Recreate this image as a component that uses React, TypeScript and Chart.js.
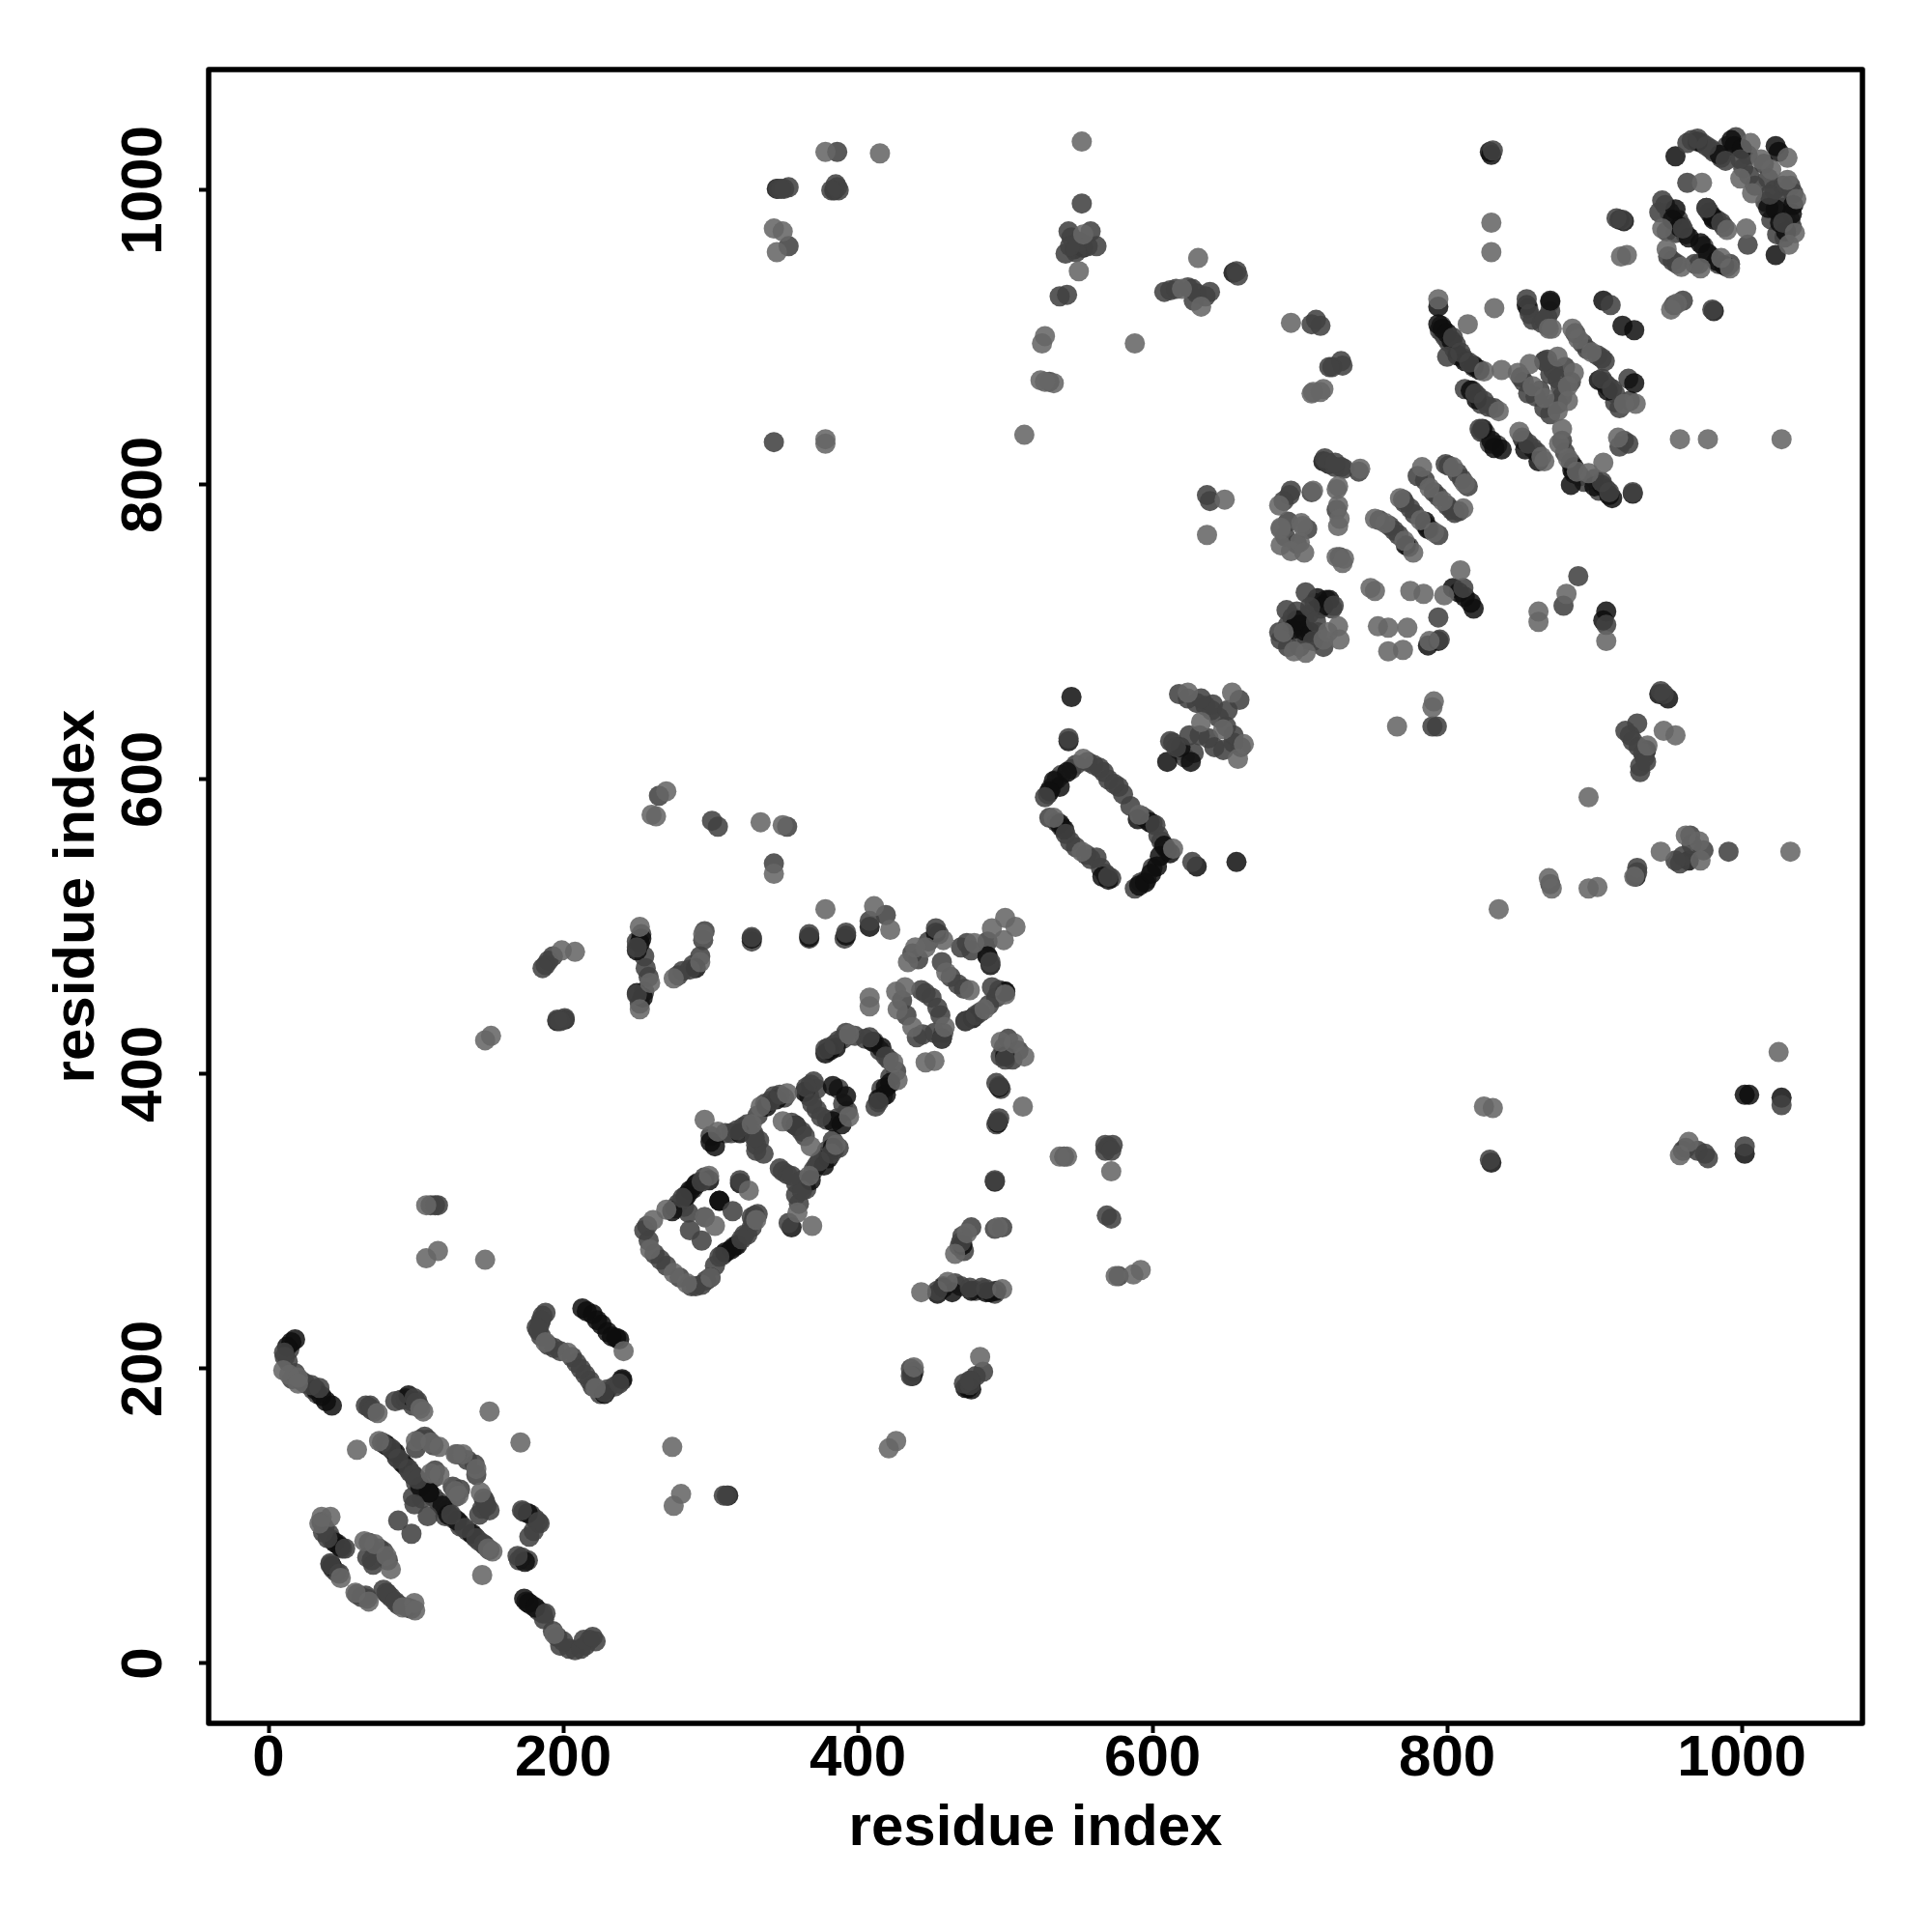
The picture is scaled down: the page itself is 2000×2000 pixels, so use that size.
import React, { useEffect, useRef } from "react";
import { Chart, registerables } from "chart.js";

Chart.register(...registerables);

type P = [number, number];

const axisTicks = [0, 200, 400, 600, 800, 1000];
const axisTitle = "residue index";

const lightPoints: P[] = [
  [10,199],[14,196],[20,194],[20,190],[74,170],[105,171],[103,173],[60,145],[75,151],[100,151],[110,150],[116,147],[110,129],[116,128],[127,117],[129,114],[132,142],[127,142],[141,132],[144,116],[152,76],[149,78],[145,60],[150,171],[171,150],
  [36,99.5],[42,99.5],[34.5,95],[49,58],[65,83],[72,81],[80,73],[83,64],[59,48],[68,42],[91,38],[99,41],[99.5,36],[194,20],[188,218],[203,211],[222,187],[241,212],
  [107,311],[107,275],[115,280],[147,274],[280,115],[275,107],[274,147],[147,423],[151,426],[208,483],[199,484],
  [261,301],[259,281],[275,265],[284,258],[300,262],[299,331],[296,303],[303,297],[331,301],[270,308],[326,321],
  [369,297],[359,306],[296,369],[305,361],[328,366],[334,378],[352,387],[349,368],[368,351],[367,331],[385,352],[394,371],[394,427],[424,408],[427,396],
  [378,512],[411,514],[422,498],[446,486],[439,486],[434,476],[458,491],[479,489],[500,506],[491,499],[507,500],[499,491],[500,454],[486,444],[460,469],[476,457],[459,432],[437,432],[427,444],[426,456],[432,459],[408,452],[408,446],[446,408],[452,409],[513,412],[506,421],[497,422],[512,378],[252,500],[259,462],[252,444],[295,495],[293,476],[275,465],
  [498,254],[461,259],[443,252],[466,278],[474,292],[495,296],[483,208],[438,201],[426,151],[421,146],[537,344],[542,344],[572,334],[592,267],[587,264],[575,263],
  [260,576],[263,575],[270,592],[334,571],[349,569],[343,536],
  [343,974],[349,972],[345,958],[378,1026],[415,1025],[378,831],[378,828],[552,1033],[553,970],[550,945],[527,901],[525,896],[524,871],[533,869],[527,870],[513,834],[588,896],[631,954],[620,933],[633,921],
  [708,862],[714,863],[694,755],[687,770],[702,772],[686,786],[725,797],[726,772],[725,751],[729,747],[637,766],[649,790],
  [751,777],[758,774],[777,754],[771,762],[768,791],[782,776],[791,768],[783,812],[788,798],[797,789],[811,784],[804,812],[812,801],[741,811],[726,799],[726,786],[727,777],[730,750],[709,796],[687,771],[701,774],[687,759],[700,761],[703,754],[751,728],[748,730],[775,728],[784,726],[798,725],[809,742],[753,704],[760,703],[773,703],[770,688],[760,687],[788,694],
  [791,653],[766,636],[790,649],[726,704],[704,686],[716,695],
  [794,926],[832,920],[869,906],[952,919],[956,923],[837,878],[825,877],[814,909],[871,906],[889,899],[885,906],[898,890],[856,882],[848,876],[858,867],[875,887],[886,876],[882,867],[882,857],[875,850],[866,859],[835,850],[928,855],[920,855],[878,838],[876,828],[882,818],[866,816],[864,819],[849,836],[888,809],[906,815],[896,808],[916,832],
  [958,831],[977,831],[1027,831],[830,978],[830,958],[922,956],[918,955],[694,910],[716,865],[709,863],
  [1006,1032],[1031,1022],[1031,1007],[1037,994],[1036,971],[1020,1014],[1013,1021],[999,1008],[1007,998],[990,973],[1003,974],[973,1005],[992,947],[986,954],[972,947],[959,948],[949,960],[946,974],[1032,963],
  [835,512],[825,378],[831,377],[869,533],[871,526],[896,526],[902,527],[927,534],[945,551],[962,562],[971,558],[972,545],[1033,551],[896,588],[936,623],[947,633],[955,630],[908,694],[881,726],[862,714],[862,707],[1025,415],[958,345],[964,354],
  [533,574],[552,551],[553,614],[591,576],[614,553],[658,614],[633,639],[648,634],[662,624],[624,659],[654,659],
  [689,700],[696,687],[719,700],[727,695]
];

const midPoints: P[] = [
  [11,208],[10.5,211],[29,189],[34.5,187],[68,174],[70,172],[86,178],[99,180],[100,177],[77,150],[83,146],[88,139],[95,132],[98,128],[101,125],[106,154],[133,92],[141,85],[146,81],[143,101],[124,101],[148,107],[150,104],[99,108],[108,100],[88,97],[97,88],
  [37,89],[40,85],[52,78],[42,67],[48,61],[67,72],[71,67],[67,44],[78,50],[81,47],[86,42],[172,104],[183,96],[177,86],[169,73],[188,34],[200,15],[212,10],[214,16],[220,18],[188,238],[185,233],[182,228],[194,214],[212,200],[228,184],[238,190],
  [115,311],[110,311],[113,311],[311,114],[309,114],[196,437],[201,438],[198,436],[188,474],[193,480],[190,477],[186,472],
  [255,294],[266,274],[294,257],[306,276],[321,288],[325,291],[294,327],[281,316],[296,303],[286,294],[294,287],[320,328],[330,304],[315,307],
  [353,299],[362,321],[374,341],[382,346],[347,336],[355,331],[318,362],[331,348],[336,346],[330,357],[341,382],[347,386],[370,395],[365,391],[369,380],[375,371],[358,365],[364,358],
  [378,417],[384,420],[408,425],[419,412],[414,381],[453,499],[474,489],[490,476],[468,461],[491,459],[473,436],[480,440],[446,455],[454,445],[457,424],[444,427],[457,476],[500,410],[495,368],[496,392],[408,504],[419,508],[250,486],[256,472],[250,454],[286,471],[328,493],[367,495],[392,496],
  [493,328],[470,286],[476,255],[454,253],[487,254],[436,195],[485,198],[476,189],[472,190],[476,192],[570,351],[568,348],[573,352],[568,352],[572,348],[572,302],[569,304],[577,263],[540,344],[343,543],[305,568],[301,572],[265,589],[352,568],
  [346,1001],[353,1002],[350,1001],[348,1001],[385,1004],[387,1000],[353,962],[386,1026],[386,1002],[382,1000],[343,829],[552,991],[543,972],[541,957],[562,962],[545,968],[550,965],[556,962],[548,958],[558,972],[544,962],[537,928],[542,929],[530,870],[608,931],[612,932],[616,933],[624,934],[630,930],[636,928],[628,925],[627,933],[639,931],[657,945],[658,942],
  [708,909],[714,908],[722,880],[729,881],[728,812],[740,809],[719,815],[724,812],[693,793],[708,795],[725,783],[637,793],[639,789],[690,765],[698,760],[692,775],[705,770],
  [764,769],[775,784],[780,806],[799,814],[805,781],[730,811],[717,818],[724,815],[694,796],[689,789],[727,751],[811,730],[794,710],[795,695],
  [723,718],[704,727],[707,717],[691,715],[686,700],[687,695],[709,694],[711,707],[945,660],[947,658],
  [854,926],[911,922],[804,900],[809,890],[815,883],[800,887],[856,916],[866,912],[905,886],[866,884],[875,872],[866,884],[819,862],[825,857],[905,872],[912,865],[822,838],[855,828],[905,802],[910,795],[926,795],[923,828],[980,919],
  [831,1027],[919,980],[915,981],[711,912],[728,884],[720,880],
  [963,1032],[970,1035],[976,1030],[989,1020],[999,1021],[1019,997],[1028,978],[1004,963],[963,1005],[946,993],[976,988],[986,978],[960,974],
  [829,342],[929,540],[929,537],[870,529],[958,543],[960,548],[966,556],[965,562],[974,552],[955,545],[991,551],[921,633],[929,638],[931,609],[933,618],[924,630],[926,626],[930,622],[934,615],[931,605],[935,612],[908,705],[879,718],[889,738],[1027,379],[975,346],[970,348],[977,343],[960,348],[962,350],[1002,351],[793,636],[790,636],
  [527,588],[541,563],[562,547],[570,534],[564,608],[574,597],[602,569],[543,628],[612,626],[625,630],[616,622],[641,651],[633,655],[651,647],[659,654],[627,544]
];

const darkPoints: P[] = [
  [18,220],[15.5,218],[12.6,215],[36,181.5],[39,178],[43,175],[32,186],[95,182],[80,148],[86,143],[91,136],[103,120],[109,116],[109,116],[118,107],[122,101],[128,97],[138,88],
  [45,82],[49,79],[43,66],[173.5,44],[176.5,41],[181,38],[176,102],[174,69],[213,241],[220,237],[223,233],[233,222],[238,220],[230,225],[216,239],[226,230],[236,221],[228,183],[240,193],
  [196,436],[201,437],[312,114],
  [299,328],[286,321],[274,307],[306,314],[306,314],[314,281],[310,279],[318,284],[300,262],[320,326],[290,325],[283,317],
  [355,296],[368,328],[377,338],[380,343],[383,350],[303,351],[300,354],[320,360],[338,378],[345,383],[364,388],[383,392],[392,385],[383,368],[389,366],[358,365],
  [378,414],[381,416],[385,418],[410,422],[416,418],[419,391],[414,383],[419,386],[422,394],
  [453,496],[488,480],[490,474],[500,456],[473,436],[478,438],[457,424],[500,412],[496,391],[495,367],[253,492],[250,484],[252,489],[250,455],[254,452],[290,472],[328,492],[367,493],[392,494],[408,500],
  [493,327],[471,284],[464,252],[458,255],[454,251],[477,253],[487,252],[490,252],[494,253],[437,195],[475,187],[477,186],[473,187],
  [345,1001],[384,1000],[829,1026],[553,961],[547,960],[655,944],
  [712,723],[716,718],[700,705],[703,701],[707,700],[695,702],[698,708],[720,722],
  [716,816],[720,814],[772,759],[787,770],[785,775],
  [804,730],[808,727],[812,724],[816,720],[818,716],[794,694],[787,691],
  [794,921],[854,922],[870,925],[906,925],[919,908],[927,905],[794,909],[797,906],[800,903],[803,898],[807,888],[812,884],[818,881],[822,878],[816,864],[820,858],[903,871],[909,864],[927,869],[824,838],[830,830],[837,824],[832,825],[862,816],[853,824],[905,800],[910,793],[912,791],[900,799],[886,812],[884,800],[926,794],[981,918],[885,810],
  [981,980],[917,980],[920,979],[830,1024],
  [955,1023],[970,1033],[993,1034],[995,1030],[1023,1030],[1025,1026],[1023,956],[1023,987],[1026,978],[1030,972],[1035,990],[1034,984],[955,987],[953,980],[958,975],[964,968],[976,988],[980,982],[972,964],[977,957],[983,952],[988,949],[1018,988],[1000,1028],[985,1024],
  [830,340],[1002,386],[1005,386],[1027,384],[1002,346],[950,655],[944,658],[908,714],[906,708],[935,620],[928,534],[964,545],
  [533,599],[537,595],[542,605],[530,592],[543,626],[537,570],[540,566],[545,656],[566,534],[570,532],[591,528],[595,530],[599,536],[603,541],[608,555],[612,550],[605,548],[598,571],[590,573],[610,612],[619,622],[626,612],[657,544],[630,541]
];

const denseLowMid: P[] = [
  [14,213],[13,205],[16,193],[18,197],[22,192],[25,190],[30,186],[33,183],[66,175],[69,175],[72,171],[90,179],[93,180],[97,178],[101,178],[102,175],[98,175],
  [79,149],[84,145],[87,140],[93,134],[96,130],[99,127],[100,123],[105,118],[112,113],[115,110],[120,104],[124,100],[126,98],[130,95],[135,90],[140,86],[143,83],[147,80],[150,77],
  [100,146],[103,152],[108,152],[112,148],[113,131],[112,126],[128,142],[135,138],[140,135],[141,128],[125,120],[130,118],[127,113],[146,112],[147,110],[145,105],[104,112],[98,113],[120,100],[130,93],
  [36,96],[38,92],[41,88],[43,84],[47,81],[50,78],[44,64],[46,62],[42,68],[68,82],[75,78],[78,76],[81,70],[70,70],[60,47],[63,45],[66,46],[80,48],[83,45],[88,40],[94,38],[97,37],
  [173,103],[178,101],[181,98],[184,95],[180,90],[172,72],[176,70],[170,70],[175,42],[178,40],[183,36],[186,34],[187,30],[193,22],[196,18],[198,12],[204,10],[208,9],[215,12],[218,16],[222,15],
  [186,236],[184,230],[183,226],[185,222],[190,216],[198,212],[206,208],[209,204],[215,196],[218,192],[220,188],[225,183],[230,186],[235,188],[240,192]
];

const denseMiddleMid: P[] = [
  [257,297],[258,287],[262,278],[270,270],[279,262],[287,256],[290,256],[297,260],[303,270],[308,277],[316,283],[323,291],[328,296],[332,305],[329,300],[328,303],
  [296,330],[291,326],[288,322],[284,318],[278,312],[276,309],[282,310],[285,306],
  [360,312],[358,318],[364,325],[370,335],[372,338],[377,344],[379,348],[384,349],[383,355],[387,350],[349,334],[352,332],[358,326],[362,328],[365,322],
  [300,358],[310,360],[314,360],[322,364],[325,366],[332,372],[337,380],[343,385],[350,384],[368,393],[372,390],[367,385],[387,390],[390,380],[393,375],[386,370],[379,369],[331,352],[333,355],[329,360],[372,376],[355,367],[362,361],
  [380,418],[387,423],[390,424],[398,426],[405,424],[411,422],[415,416],[421,410],[426,402],[422,398],[417,385],[412,378],[416,390],[392,428],
  [437,482],[441,478],[448,490],[455,495],[470,486],[477,484],[488,480],[463,466],[472,458],[443,457],[450,452],[456,440],[458,428],[452,428],[433,440],[430,450],[440,425],[483,442],[494,452],[496,457],[489,447],[500,456],[488,490],
  [499,418],[502,424],[509,416],[505,410],[497,412],[494,394],[497,390],[494,366],[496,370],
  [253,495],[250,490],[255,480],[258,466],[255,456],[252,448],[293,480],[288,474],[281,470],[278,467],[295,491],[296,497],[328,490],[367,492],[391,492],
  [471,290],[472,280],[469,283],[477,296],[493,295],[498,296],[458,256],[466,258],[470,256],[480,253],[484,255],[490,252],[493,251],[438,198],[436,200],[477,192],[480,195],
  [529,590],[531,594],[535,600],[538,603],[545,607],[548,610],[556,612],[560,610],[567,605],[570,600],[577,595],[580,590],[585,582],[593,575],[596,573],[600,570],[604,562],[606,558],[610,552],[600,540],[596,532],[592,530],[588,526],
  [535,571],[538,568],[544,558],[548,554],[555,549],[558,546],[565,540],[568,536],[572,533],[530,574],
  [618,658],[624,655],[630,652],[636,650],[640,647],[645,642],[650,636],[655,630],[660,622],[614,625],[618,620],[622,615],[628,618],[632,630],[638,628],[642,622],[648,620],[655,625]
];

const denseUpperMid: P[] = [
  [690,700],[692,705],[695,710],[698,714],[700,702],[703,708],[706,712],[710,720],[714,716],[718,722],[722,716],[700,690],[705,695],[712,700],[716,690],[692,690],
  [754,776],[761,772],[767,766],[774,758],[771,788],[778,780],[785,773],[788,770],[794,766],[770,790],[785,803],[791,795],[794,792],[800,786],[803,783],[808,782],[801,813],[807,808],[810,804],[814,799],
  [795,905],[796,908],[797,903],[799,900],[801,897],[806,895],[811,886],[818,880],[805,892],[812,865],[817,864],[821,860],[823,855],[828,853],[832,852],
  [823,836],[826,835],[829,828],[834,827],[851,832],[852,830],[858,825],[861,822],[868,914],[870,918],[870,924],[855,920],[858,912],[864,910],[868,908],[887,903],[892,896],[895,892],[902,888],[907,884],
  [850,873],[852,870],[855,862],[860,860],[863,864],[870,875],[872,855],[878,860],[884,870],[880,880],[868,885],[872,878],[877,866],[875,855],[870,848],[866,852],
  [878,830],[880,822],[884,815],[886,808],[890,806],[893,802],[900,804],[903,796],[908,797],[906,870],[908,868],[910,866],[914,862],[923,872],[924,857],[914,856],[917,852],[917,826],[920,830],
  [966,1034],[973,1032],[979,1028],[981,1026],[986,1022],[990,1030],[996,1036],[1000,1028],[1004,1024],[1001,1015],[1005,1010],[1009,1003],[1015,1018],[1018,1008],[1022,1000],[1026,992],[1028,988],[1030,985],[1033,980],[1034,975],[1020,980],[1016,992],[1024,970],[1029,968],[1033,1003],[1035,998],[1028,1003],
  [948,990],[951,985],[957,980],[959,976],[962,970],[955,971],[949,972],[978,985],[983,980],[988,975],[974,962],[979,955],[984,950],[990,948],[992,950],[950,955],[953,952],[956,950],[944,985],[968,950],[971,950],[954,922],[960,925]
];

const series = [
  { tone: "rgba(102,102,102,0.88)", points: lightPoints, stackOrder: 0 },
  { tone: "rgba(66,66,66,0.88)", points: midPoints, stackOrder: 1 },
  { tone: "rgba(14,14,14,0.85)", points: darkPoints, stackOrder: 2 },
  { tone: "rgba(66,66,66,0.88)", points: denseLowMid, stackOrder: 3 },
  { tone: "rgba(66,66,66,0.88)", points: denseMiddleMid, stackOrder: 4 },
  { tone: "rgba(66,66,66,0.88)", points: denseUpperMid, stackOrder: 5 },
];

const frame = {
  id: "frame",
  afterDatasetsDraw(chart: any) {
    const { ctx, chartArea: a } = chart;
    ctx.save();
    ctx.strokeStyle = "#000";
    ctx.lineWidth = 5.5;
    ctx.lineJoin = "round";
    ctx.strokeRect(a.left, a.top, a.right - a.left, a.bottom - a.top);
    ctx.restore();
  },
};

export default function App() {
  const ref = useRef<HTMLCanvasElement | null>(null);
  useEffect(() => {
    if (!ref.current) return;
    const font = { family: "'Liberation Sans', Arial, sans-serif", size: 60, weight: "bold" as const, lineHeight: 1 };
    const chart = new Chart(ref.current, {
      type: "scatter",
      data: {
        datasets: series.map((s) => ({
          data: s.points.map(([x, y]) => ({ x, y })),
          backgroundColor: s.tone,
          borderWidth: 0,
          pointRadius: 10.5,
          order: s.stackOrder,
        })),
      },
      options: {
        animation: false,
        responsive: false,
        devicePixelRatio: 1,
        layout: { padding: { top: 72, right: 72, left: 0, bottom: 0 } },
        plugins: { legend: { display: false }, tooltip: { enabled: false }, title: { display: false } },
        scales: {
          x: {
            type: "linear",
            min: -40.66,
            max: 1081.9,
            afterFit: (s: any) => { s.height = 216; },
            afterBuildTicks: (s: any) => { s.ticks = axisTicks.map((value) => ({ value })); },
            border: { display: false },
            grid: { display: true, drawOnChartArea: false, drawTicks: true, tickLength: 10, tickWidth: 4, tickColor: "#000" },
            ticks: { color: "#000", font, padding: -3, maxRotation: 0, minRotation: 0, autoSkip: false, callback: (v: any) => String(v) },
            title: { display: true, text: axisTitle, color: "#000", font, padding: { top: 0, bottom: 77 } },
          },
          y: {
            type: "linear",
            min: -40.66,
            max: 1081.9,
            afterFit: (s: any) => { s.width = 216; },
            afterBuildTicks: (s: any) => { s.ticks = axisTicks.map((value) => ({ value })); },
            border: { display: false },
            grid: { display: true, drawOnChartArea: false, drawTicks: true, tickLength: 10, tickWidth: 4, tickColor: "#000" },
            ticks: { color: "#000", font, padding: -11, minRotation: 90, maxRotation: 90, crossAlign: "center", autoSkip: false, callback: (v: any) => String(v) },
            title: { display: true, text: axisTitle, color: "#000", font, padding: { top: 50, bottom: 0 } },
          },
        },
      },
      plugins: [frame],
    } as any);
    return () => chart.destroy();
  }, []);
  return (
    <div style={{ position: "absolute", left: 0, top: 0, width: 2000, height: 2000, background: "#fff" }}>
      <canvas ref={ref} width={2000} height={2000} style={{ display: "block" }} />
    </div>
  );
}
